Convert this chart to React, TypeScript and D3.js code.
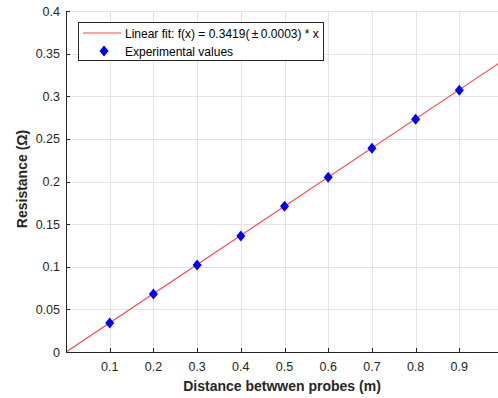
import { useEffect, useRef } from "react";
import * as d3 from "d3";

// measured distances (m) and resistances (ohm)
const distances = [0.1, 0.2, 0.3, 0.4, 0.5, 0.6, 0.7, 0.8, 0.9];
const resistances = [0.034, 0.068, 0.102, 0.136, 0.171, 0.205, 0.239, 0.273, 0.307];
const slope = 0.3419;
const xTicks = [0.1, 0.2, 0.3, 0.4, 0.5, 0.6, 0.7, 0.8, 0.9, 1];
const yTicks = [0, 0.05, 0.1, 0.15, 0.2, 0.25, 0.3, 0.35, 0.4];
const legendLabels = ["Linear fit: f(x) = 0.3419(\u2009\u00b1\u20090.0003) * x", "Experimental values"];

const App = () => {
  const ref = useRef<SVGSVGElement>(null);

  useEffect(() => {
    const width = 498;
    const height = 398;
    const m = { left: 66, top: 11, right: 503, bottom: 352 };
    const axisColor = "#262626";
    const font = "Liberation Sans, Arial, sans-serif";

    const svg = d3.select(ref.current).attr("width", width).attr("height", height);
    svg.selectAll("*").remove();

    const x = d3.scaleLinear().domain([0, 1]).range([m.left, m.right]);
    const y = d3.scaleLinear().domain([0, 0.4]).range([m.bottom, m.top]);

    svg.append("rect").attr("width", width).attr("height", height).attr("fill", "white");

    // grid
    const grid = svg.append("g").attr("stroke", "#e3e3e3").attr("stroke-width", 1);
    grid
      .selectAll("line.v")
      .data(xTicks)
      .join("line")
      .attr("class", "v")
      .attr("x1", (d) => Math.round(x(d)) + 0.5)
      .attr("x2", (d) => Math.round(x(d)) + 0.5)
      .attr("y1", m.top)
      .attr("y2", m.bottom);
    grid
      .selectAll("line.h")
      .data(yTicks.slice(1))
      .join("line")
      .attr("class", "h")
      .attr("x1", m.left)
      .attr("x2", m.right)
      .attr("y1", (d) => Math.round(y(d)) + 0.5)
      .attr("y2", (d) => Math.round(y(d)) + 0.5);

    // fit line
    svg
      .append("line")
      .attr("x1", x(0))
      .attr("y1", y(0))
      .attr("x2", x(1))
      .attr("y2", y(slope))
      .attr("stroke", "#ff4a4a")
      .attr("stroke-width", 1.2);

    // markers
    const diamond = (cx: number, cy: number) =>
      `M${cx},${cy - 5.5}L${cx + 4.5},${cy}L${cx},${cy + 5.5}L${cx - 4.5},${cy}Z`;
    svg
      .append("g")
      .selectAll("path")
      .data(distances)
      .join("path")
      .attr("d", (d, i) => diamond(x(d), y(resistances[i])))
      .attr("fill", "#0000ff");

    // axes
    const ax = svg.append("g").attr("stroke", axisColor).attr("stroke-width", 1);
    ax.append("line").attr("x1", m.left).attr("x2", m.right).attr("y1", m.bottom + 0.5).attr("y2", m.bottom + 0.5);
    ax.append("line").attr("x1", m.left + 0.5).attr("x2", m.left + 0.5).attr("y1", m.top).attr("y2", m.bottom);
    ax.selectAll("line.xt")
      .data(xTicks)
      .join("line")
      .attr("class", "xt")
      .attr("x1", (d) => Math.round(x(d)) + 0.5)
      .attr("x2", (d) => Math.round(x(d)) + 0.5)
      .attr("y1", m.bottom)
      .attr("y2", m.bottom - 4);
    ax.selectAll("line.yt")
      .data(yTicks)
      .join("line")
      .attr("class", "yt")
      .attr("x1", m.left)
      .attr("x2", m.left + 4)
      .attr("y1", (d) => Math.round(y(d)) + 0.5)
      .attr("y2", (d) => Math.round(y(d)) + 0.5);

    const fmt = (d: number) => String(+d.toFixed(2));
    svg
      .append("g")
      .attr("font-family", font)
      .attr("font-size", 12.5)
      .attr("fill", axisColor)
      .attr("text-anchor", "middle")
      .selectAll("text")
      .data(xTicks.slice(0, -1))
      .join("text")
      .attr("x", (d) => x(d))
      .attr("y", 371)
      .text(fmt);
    svg
      .append("g")
      .attr("font-family", font)
      .attr("font-size", 12.5)
      .attr("fill", axisColor)
      .attr("text-anchor", "end")
      .selectAll("text")
      .data(yTicks)
      .join("text")
      .attr("x", 60)
      .attr("y", (d) => y(d) + 4.5)
      .text(fmt);

    svg
      .append("text")
      .attr("x", 282)
      .attr("y", 391)
      .attr("text-anchor", "middle")
      .attr("font-family", font)
      .attr("font-size", 14)
      .attr("font-weight", "bold")
      .attr("fill", axisColor)
      .text("Distance betwwen probes (m)");
    svg
      .append("text")
      .attr("transform", "translate(27,179) rotate(-90)")
      .attr("text-anchor", "middle")
      .attr("font-family", font)
      .attr("font-size", 14)
      .attr("font-weight", "bold")
      .attr("fill", axisColor)
      .text("Resistance (\u03a9)");

    // legend
    const lg = svg.append("g");
    lg.append("rect")
      .attr("x", 78.5)
      .attr("y", 22.5)
      .attr("width", 245)
      .attr("height", 38)
      .attr("fill", "white")
      .attr("stroke", axisColor)
      .attr("stroke-width", 1);
    lg.append("line")
      .attr("x1", 83)
      .attr("x2", 121)
      .attr("y1", 33)
      .attr("y2", 33)
      .attr("stroke", "#ff4a4a")
      .attr("stroke-width", 1.2);
    lg.append("path").attr("d", diamond(104, 51)).attr("fill", "#0000ff");
    lg.selectAll("text")
      .data(legendLabels)
      .join("text")
      .attr("x", 125)
      .attr("y", (d, i) => 37.5 + i * 18)
      .attr("font-family", font)
      .attr("font-size", 12)
      .attr("fill", "#000")
      .text((d) => d);
  }, []);

  return <svg ref={ref} style={{ position: "absolute", left: 0, top: 0 }} />;
};

export default App;
